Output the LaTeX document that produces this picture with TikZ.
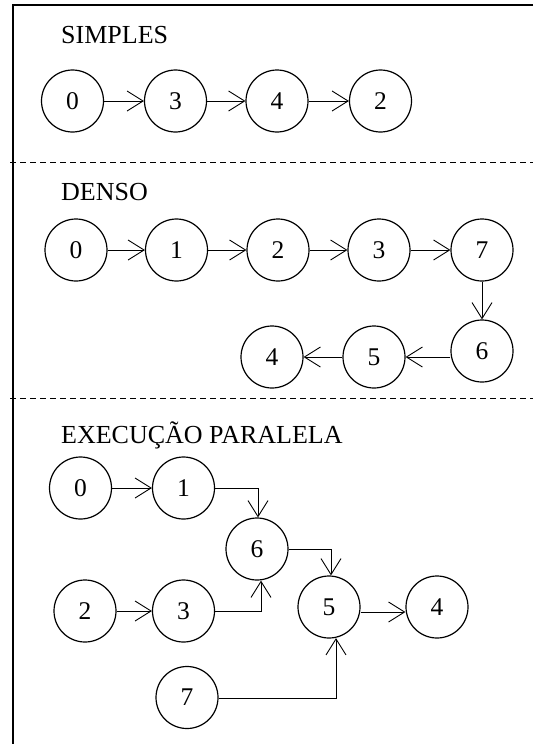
\documentclass[tikz,border=0pt]{standalone}
\usepackage{fontspec}
\setmainfont{Liberation Serif}
\usetikzlibrary{arrows.meta,calc}

\tikzset{
  vertex/.style={draw, circle, line width=1.2pt, minimum size=62pt, inner sep=0pt,
                 font=\fontsize{25.5}{30}\selectfont},
  title/.style={anchor=base west, inner sep=0pt, font=\fontsize{26}{30}\selectfont},
  arr/.style={line width=0.9pt, -{Straight Barb[length=16pt,width=20pt,line width=0.9pt]}},
  frame/.style={line width=1.5pt},
  divider/.style={line width=0.9pt, dash pattern=on 6pt off 4pt}
}

\begin{document}
\begin{tikzpicture}[x=1pt, y=-1pt]
  \useasboundingbox (0,0) rectangle (533,744);

  % outer frame: top and left edges
  \draw[frame] (533,5) -- (13,5) -- (13,744);

  % section dividers
  \draw[divider] (10,162) -- (533,162);
  \draw[divider] (10,398) -- (533,398);

  % ---------- SIMPLES ----------
  \node[title] (tS) at (61,43) {SIMPLES};
  \node[vertex] (s0) at (72.5,101) {0};
  \node[vertex] (s3) at (175.5,101) {3};
  \node[vertex] (s4) at (277,101) {4};
  \node[vertex] (s2) at (380.5,101) {2};
  \draw[arr] (s0.east) -- (s3.west);
  \draw[arr] (s3.east) -- (s4.west);
  \draw[arr] (s4.east) -- (s2.west);

  % ---------- DENSO ----------
  \node[title] (tD) at (61,200) {DENSO};
  \node[vertex] (d0) at (76,250) {0};
  \node[vertex] (d1) at (176.5,250) {1};
  \node[vertex] (d2) at (278,250) {2};
  \node[vertex] (d3) at (379,250) {3};
  \node[vertex] (d7) at (482,250) {7};
  \node[vertex] (d6) at (482,351) {6};
  \node[vertex] (d5) at (374,357) {5};
  \node[vertex] (d4) at (272,357) {4};
  \draw[arr] (d0.east) -- (d1.west);
  \draw[arr] (d1.east) -- (d2.west);
  \draw[arr] (d2.east) -- (d3.west);
  \draw[arr] (d3.east) -- (d7.west);
  \draw[arr] (d7.south) -- (d6.north);
  \draw[arr] (d6.west |- d5.center) -- (d5.east);
  \draw[arr] (d5.west) -- (d4.east);

  % ---------- EXECUCAO PARALELA ----------
  \node[title] (tE) at (61,443) {EXECUÇÃO PARALELA};
  \node[vertex] (e0) at (80.5,488) {0};
  \node[vertex] (e1) at (183.5,488) {1};
  \node[vertex] (e6) at (257,549) {6};
  \node[vertex] (e2) at (85,611) {2};
  \node[vertex] (e3) at (183.5,611) {3};
  \node[vertex] (e5) at (329,607) {5};
  \node[vertex] (e4) at (437,607) {4};
  \node[vertex] (e7) at (187,697.5) {7};

  \coordinate (k16) at (258,488);
  \coordinate (k36) at (261,611);
  \coordinate (k65) at (331,549);
  \coordinate (k75) at (336,698);

  \draw[arr] (e0.east) -- (e1.west);
  \draw[arr] (e1.east) -- (k16) -- (k16 |- e6.north);
  \draw[arr] (e2.east) -- (e3.west);
  \draw[arr] (e3.east) -- (k36) -- (k36 |- e6.south);
  \draw[arr] (e6.east) -- (k65) -- (k65 |- e5.north);
  \draw[arr] ([yshift=-5pt]e5.east) -- ([yshift=-5pt]e4.west);
  \draw[arr] (e7.east |- k75) -- (k75) -- ($(k75 |- e5.south)+(0,-0.5)$);
\end{tikzpicture}
\end{document}
